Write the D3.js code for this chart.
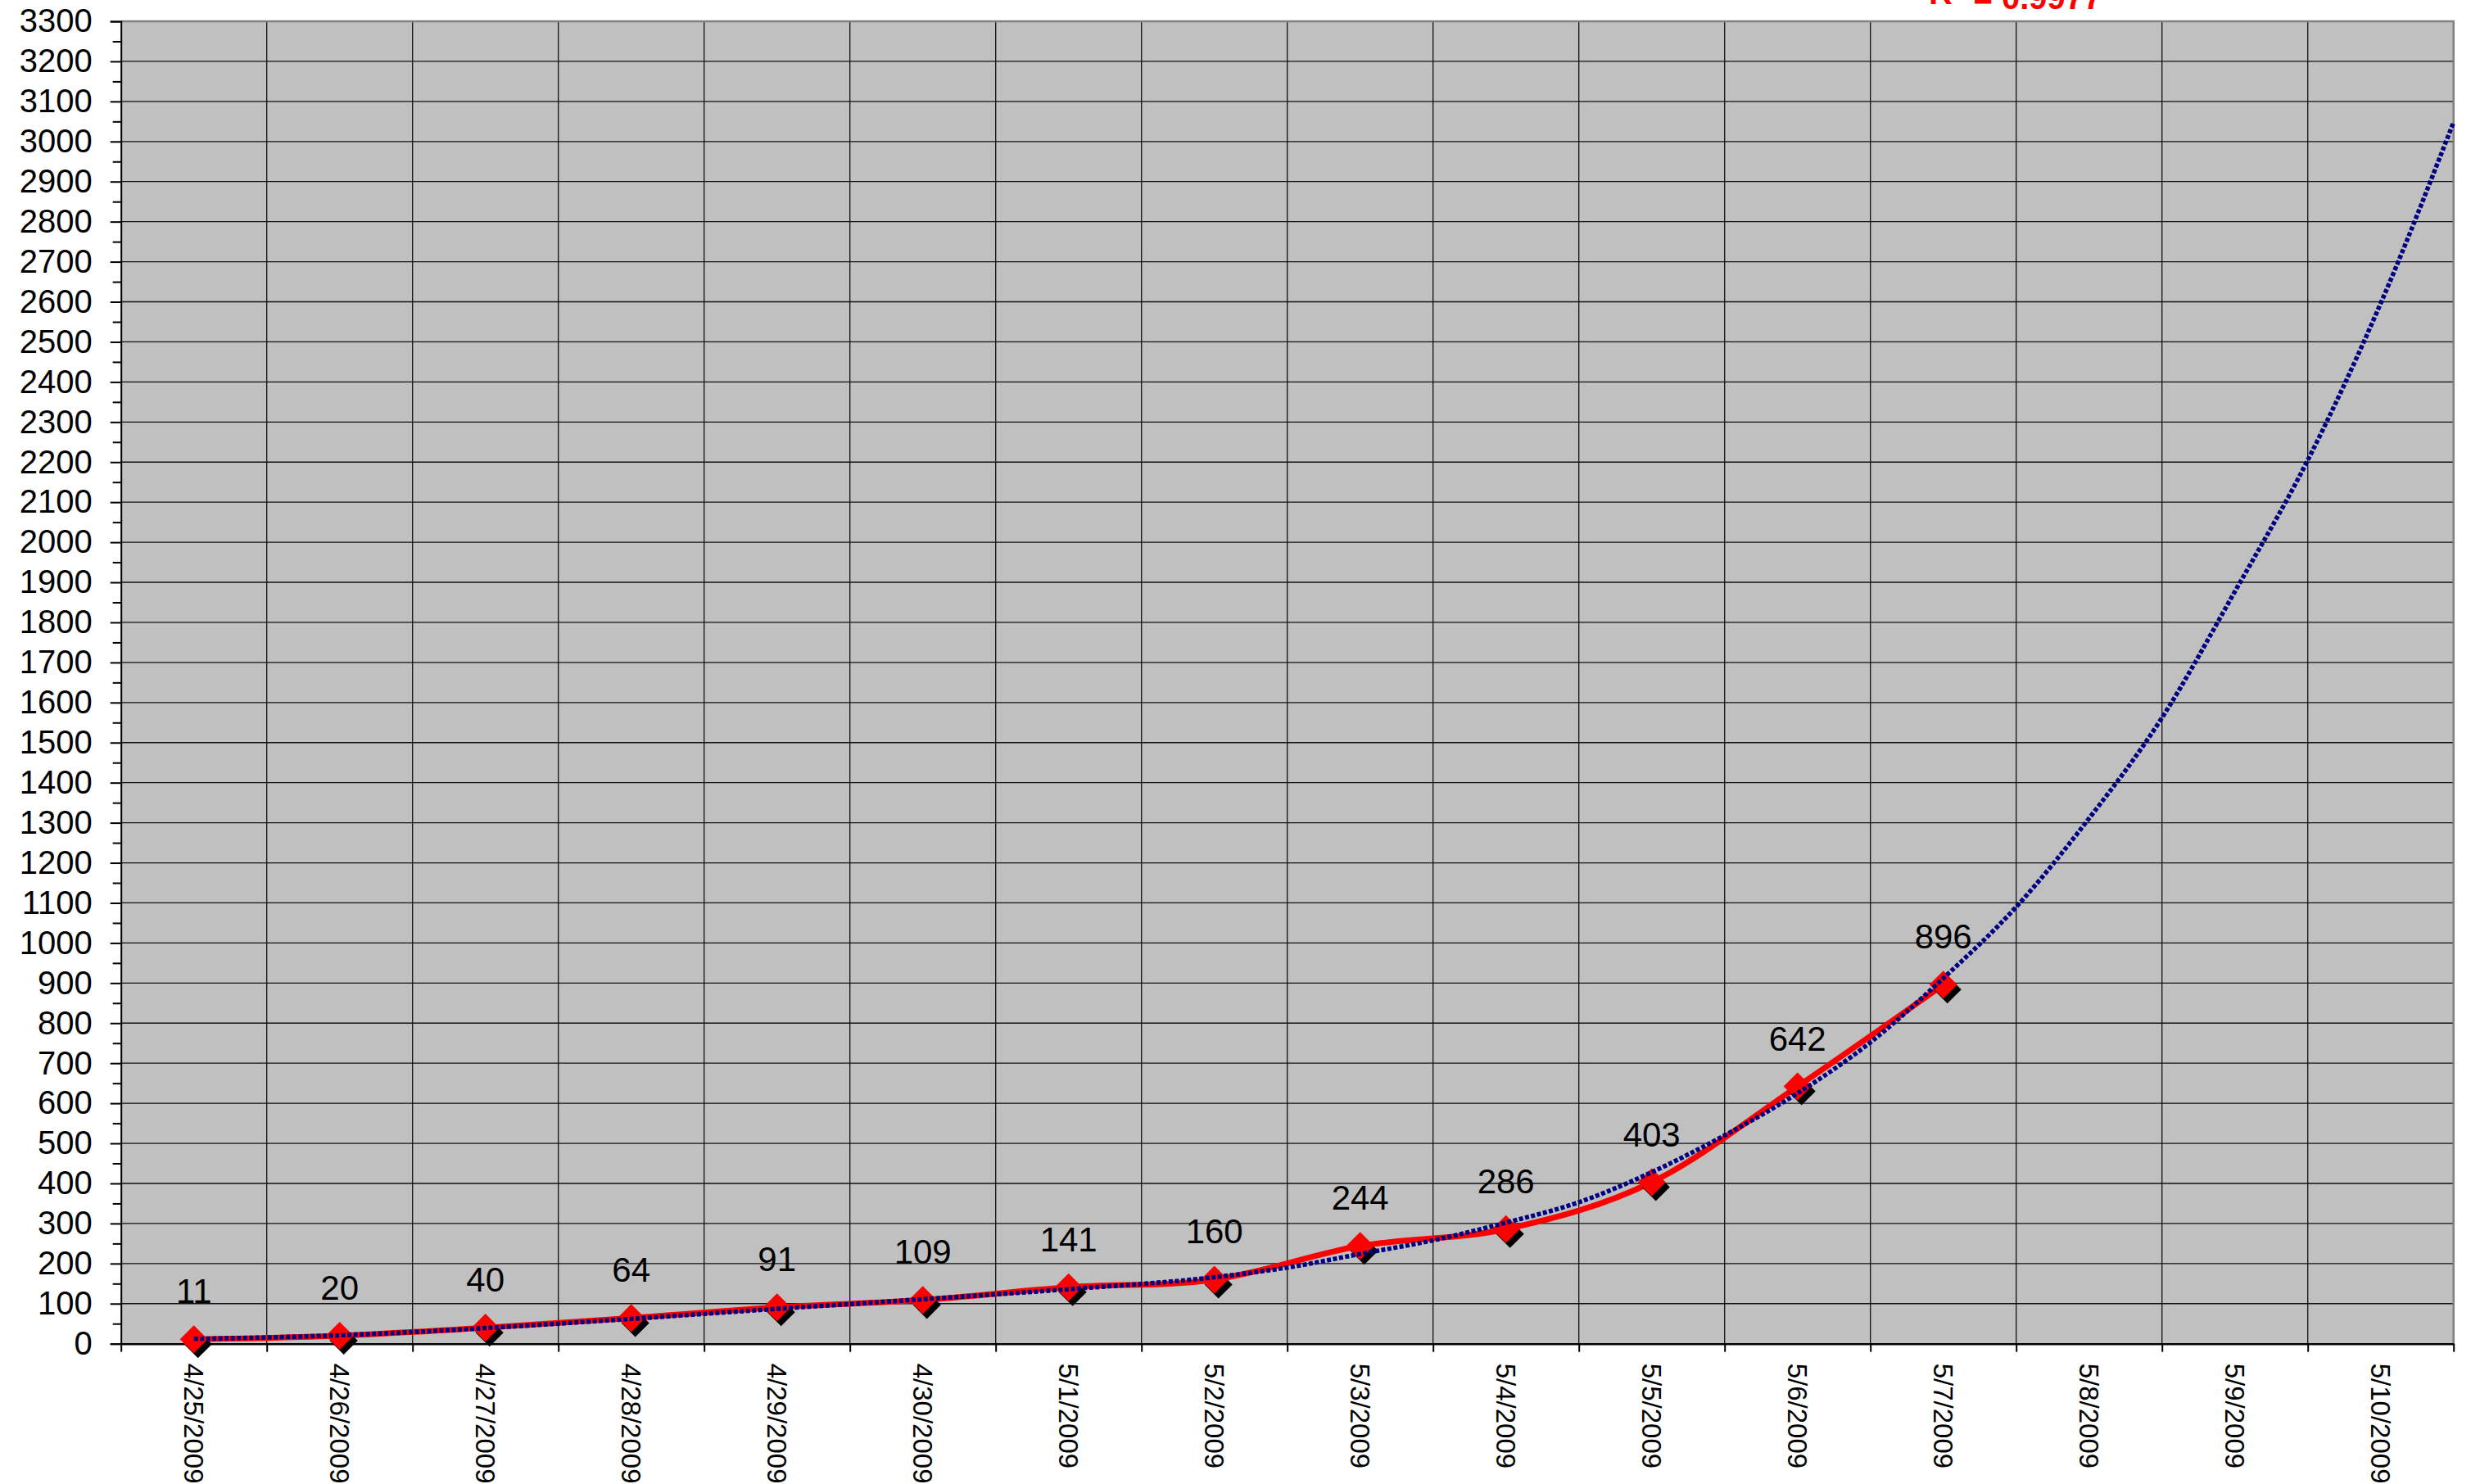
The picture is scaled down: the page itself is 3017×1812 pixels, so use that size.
<!DOCTYPE html>
<html>
<head>
<meta charset="utf-8">
<script src="https://cdn.jsdelivr.net/npm/d3@7"></script>
<style>
  body { margin: 0; background: #fff; }
  text { font-family: "Liberation Sans", Arial, sans-serif; }
</style>
</head>
<body>
<div id="chart"></div>
<script>
// category labels (days)
let dates = ["4/25/2009", "4/26/2009", "4/27/2009", "4/28/2009", "4/29/2009", "4/30/2009",
  "5/1/2009", "5/2/2009", "5/3/2009", "5/4/2009", "5/5/2009", "5/6/2009", "5/7/2009",
  "5/8/2009", "5/9/2009", "5/10/2009"];

// confirmed cases, first 13 days
let cases = [11, 20, 40, 64, 91, 109, 141, 160, 244, 286, 403, 642, 896];

// trendline (position in days from 4/25, value)
let trendPos = [0, 1, 2, 3, 4, 5, 6, 7, 7.5, 8, 8.5, 9, 9.5, 10, 10.5, 11, 11.5, 12, 12.5, 13, 13.5, 14, 14.5, 15, 15.5];
let trendVal = [12, 21, 39, 62, 87, 111, 136, 166, 190, 224, 258, 302, 353, 428, 520, 625, 752, 912, 1090, 1311, 1562, 1877, 2205, 2596, 3048];

let yTicks = d3.range(0, 3301, 100);
let rSquared = "0.9977";

let svgWidth = 3017;
let svgHeight = 1812;
let margin = { top: 26, right: 21.3, bottom: 171.3, left: 147.7 };
let width = svgWidth - margin.left - margin.right;
let height = svgHeight - margin.top - margin.bottom;

let svg = d3.select("#chart")
  .append("svg")
  .attr("width", svgWidth)
  .attr("height", svgHeight);

let chartGroup = svg.append("g")
  .attr("transform", `translate(${margin.left}, ${margin.top})`);

// scales
let xBand = d3.scaleBand().domain(dates).range([0, width]);
let xPos = d3.scaleLinear().domain([-0.5, dates.length - 0.5]).range([0, width]);
let yScale = d3.scaleLinear().domain([0, 3300]).range([height, 0]);

// plot area
chartGroup.append("rect")
  .attr("width", width)
  .attr("height", height)
  .attr("fill", "#c0c0c0");

// gridlines
chartGroup.append("g")
  .selectAll("line")
  .data(yTicks.filter(d => d > 0 && d < 3300))
  .enter()
  .append("line")
  .attr("x1", 0)
  .attr("x2", width)
  .attr("y1", d => yScale(d))
  .attr("y2", d => yScale(d))
  .attr("stroke", "#111")
  .attr("stroke-width", 1.3);

chartGroup.append("g")
  .selectAll("line")
  .data(dates.slice(1))
  .enter()
  .append("line")
  .attr("x1", d => xBand(d))
  .attr("x2", d => xBand(d))
  .attr("y1", 0)
  .attr("y2", height)
  .attr("stroke", "#111")
  .attr("stroke-width", 1.3);

// border top/right
chartGroup.append("path")
  .attr("d", `M0,0H${width}V${height}`)
  .attr("fill", "none")
  .attr("stroke", "#808080")
  .attr("stroke-width", 2.5);

// y axis
let leftAxis = d3.axisLeft(yScale)
  .tickValues(yTicks)
  .tickSize(13)
  .tickPadding(22)
  .tickFormat(d3.format("d"));

let yAxisG = chartGroup.append("g").call(leftAxis);
yAxisG.select(".domain").attr("stroke", "#000").attr("stroke-width", 2);
yAxisG.selectAll(".tick line").attr("stroke", "#000").attr("stroke-width", 2);
yAxisG.selectAll(".tick text")
  .attr("font-size", "40px")
  .attr("fill", "#000")
  .style("font-family", "'Liberation Sans', Arial, sans-serif");

// minor ticks
let minorAxis = d3.axisLeft(yScale)
  .tickValues(d3.range(50, 3300, 100))
  .tickSize(10)
  .tickFormat("");
let minorG = chartGroup.append("g").call(minorAxis);
minorG.select(".domain").remove();
minorG.selectAll(".tick line").attr("stroke", "#000").attr("stroke-width", 2);

// x axis tick marks at category boundaries
let tickAxis = d3.axisBottom(xPos)
  .tickValues(d3.range(-0.5, dates.length, 1))
  .tickSize(10)
  .tickSizeOuter(0)
  .tickFormat("");
let xTickG = chartGroup.append("g")
  .attr("transform", `translate(0, ${height})`)
  .call(tickAxis);
xTickG.select(".domain").attr("stroke", "#000").attr("stroke-width", 2.5);
xTickG.selectAll(".tick line").attr("stroke", "#000").attr("stroke-width", 2);

// x labels, rotated
let bottomAxis = d3.axisBottom(xBand).tickSize(0);
let xLabelG = chartGroup.append("g")
  .attr("transform", `translate(0, ${height})`)
  .call(bottomAxis);
xLabelG.select(".domain").remove();
xLabelG.selectAll(".tick text")
  .attr("transform", "rotate(90)")
  .attr("x", 24)
  .attr("y", 0)
  .attr("dy", "0.35em")
  .attr("font-size", "33px")
  .attr("fill", "#000")
  .style("text-anchor", "start")
  .style("font-family", "'Liberation Sans', Arial, sans-serif");

let cx = (d, i) => xBand(dates[i]) + xBand.bandwidth() / 2;

// series line (smoothed)
let caseLine = d3.line()
  .x((d, i) => cx(d, i))
  .y(d => yScale(d))
  .curve(d3.curveCardinal.tension(0));

chartGroup.append("path")
  .datum(cases)
  .attr("d", caseLine)
  .attr("fill", "none")
  .attr("stroke", "#ff0000")
  .attr("stroke-width", 7);

// markers with shadow
let diamond = d3.symbol().type(d3.symbolDiamond2).size(740);

chartGroup.selectAll(".shadow")
  .data(cases)
  .enter()
  .append("path")
  .attr("class", "shadow")
  .attr("d", diamond)
  .attr("transform", (d, i) => `translate(${cx(d, i) + 5}, ${yScale(d) + 6})`)
  .attr("fill", "#000");

chartGroup.selectAll(".marker")
  .data(cases)
  .enter()
  .append("path")
  .attr("class", "marker")
  .attr("d", diamond)
  .attr("transform", (d, i) => `translate(${cx(d, i)}, ${yScale(d)})`)
  .attr("fill", "#ff0000");

// data labels
chartGroup.selectAll(".dlabel")
  .data(cases)
  .enter()
  .append("text")
  .attr("class", "dlabel")
  .attr("x", (d, i) => cx(d, i))
  .attr("y", d => yScale(d) - 44)
  .attr("text-anchor", "middle")
  .attr("font-size", "42px")
  .attr("fill", "#000")
  .text(d => d);

// trendline, dotted
let trendLine = d3.line()
  .x((d, i) => xPos(trendPos[i]))
  .y(d => yScale(d))
  .curve(d3.curveMonotoneX);

chartGroup.append("path")
  .datum(trendVal)
  .attr("d", trendLine)
  .attr("fill", "none")
  .attr("stroke", "#000080")
  .attr("stroke-width", 5.5)
  .attr("stroke-dasharray", "5,2.5");

// R squared label, partly cut off at the top
let rText = svg.append("text")
  .attr("x", 2355)
  .attr("y", 5)
  .attr("font-size", "40px")
  .attr("font-weight", "bold")
  .attr("fill", "#ff0000");
rText.append("tspan").text("R");
rText.append("tspan").attr("dy", "-0.45em").attr("font-size", "26px").text("2");
rText.append("tspan").attr("dy", "0.45em").text(" = " + rSquared);
</script>
</body>
</html>
